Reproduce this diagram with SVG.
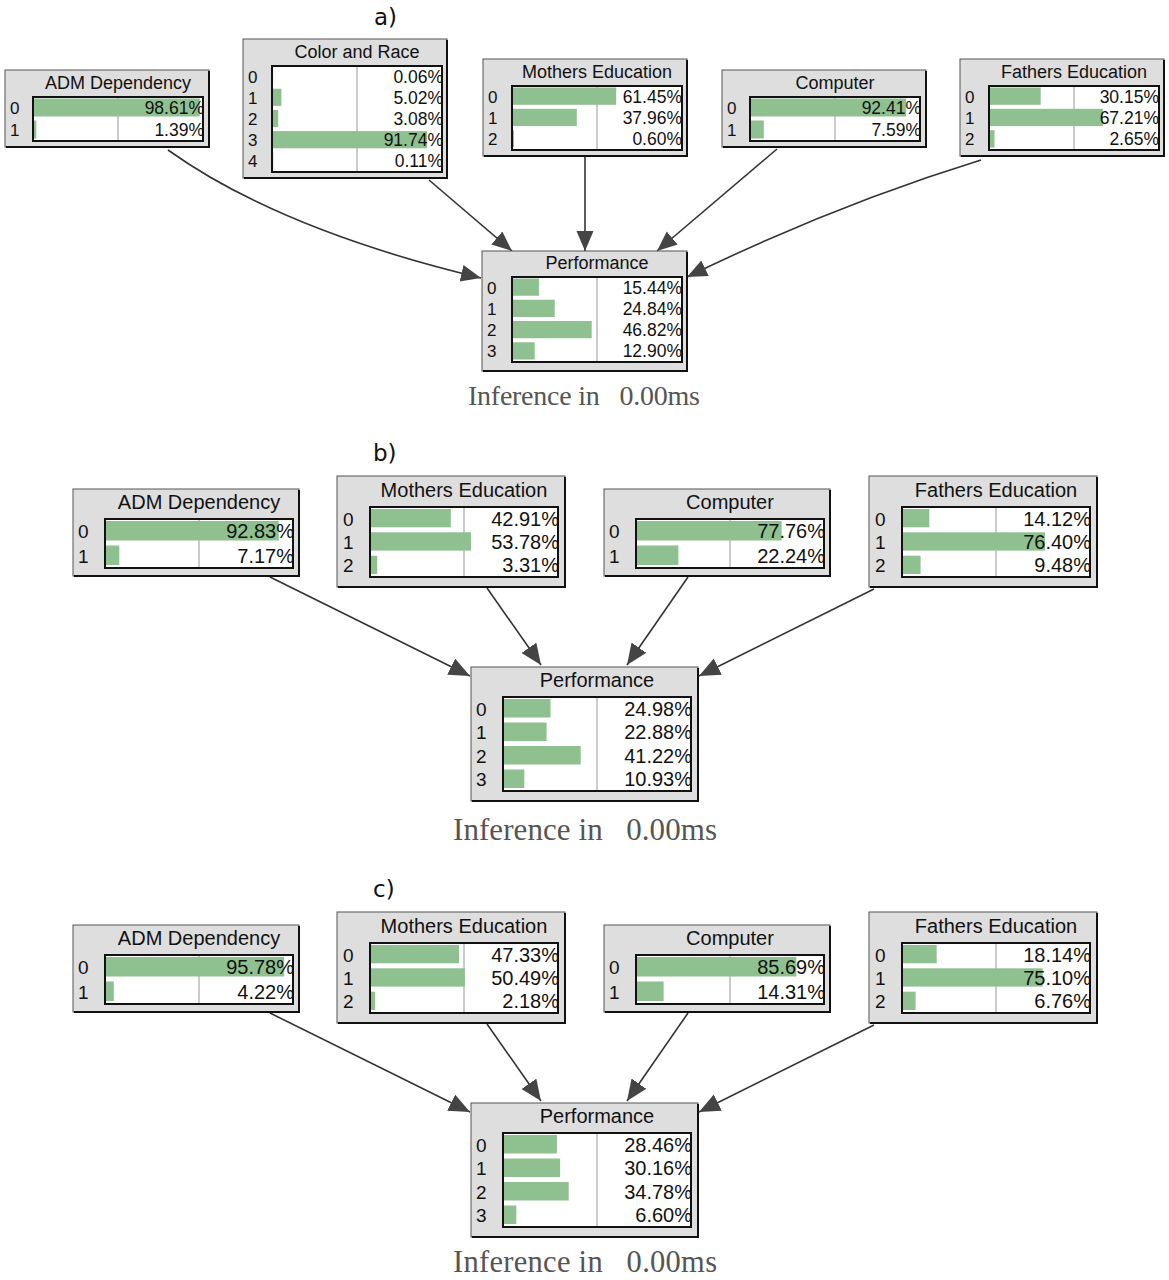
<svg xmlns="http://www.w3.org/2000/svg" width="1169" height="1280" viewBox="0 0 1169 1280">
<style>
.box{fill:#dedede;stroke:#555;stroke-width:1}
.sh{fill:none;stroke:#111;stroke-width:2}
.in{fill:#fff;stroke:#111;stroke-width:2}
.mid{stroke:#bbb;stroke-width:1.5}
.bar{fill:#8fc08f}
.t{font-family:"Liberation Sans",Arial,sans-serif;fill:#111}
.ta{font-size:18px;text-anchor:middle}
.pa{font-size:17.5px;text-anchor:end}
.la{font-size:17px}
.tb{font-size:20px;text-anchor:middle}
.pb{font-size:20px;text-anchor:end}
.lb{font-size:19px}
.edge{fill:none;stroke:#333;stroke-width:1.6}
.inf{font-family:"Liberation Serif","Times New Roman",serif;fill:#555}
.cap{font-family:"DejaVu Sans",sans-serif;font-size:23px;fill:#111}
</style>
<defs>
<marker id="ah" markerUnits="userSpaceOnUse" markerWidth="21" markerHeight="18" refX="20" refY="8.5" orient="auto"><path d="M0,0 L20,8.5 L0,17 Z" fill="#444"/></marker>
<marker id="bh" markerUnits="userSpaceOnUse" markerWidth="22" markerHeight="20" refX="21" refY="9" orient="auto"><path d="M0,0 L21,9 L0,18 Z" fill="#444"/></marker>
</defs>
<rect width="1169" height="1280" fill="#fff"/>

<text class="cap" x="374" y="25">a)</text>
<text class="cap" x="373" y="461">b)</text>
<text class="cap" x="373" y="897">c)</text>

<g id="edges">
<path class="edge" marker-end="url(#ah)" d="M168,150 Q280,230 481,278"/>
<path class="edge" marker-end="url(#ah)" d="M429,180 L512,251"/>
<path class="edge" marker-end="url(#ah)" d="M585,157 L585,251"/>
<path class="edge" marker-end="url(#ah)" d="M777,149 L657,251"/>
<path class="edge" marker-end="url(#ah)" d="M981,160 Q835,205 687,277"/>
<path class="edge" marker-end="url(#bh)" d="M270,577 L470,676"/>
<path class="edge" marker-end="url(#bh)" d="M487,588 L541,665"/>
<path class="edge" marker-end="url(#bh)" d="M688,577 L627,665"/>
<path class="edge" marker-end="url(#bh)" d="M874,589 L699,676"/>
<path class="edge" marker-end="url(#bh)" d="M270,1013 L470,1112"/>
<path class="edge" marker-end="url(#bh)" d="M487,1024 L541,1101"/>
<path class="edge" marker-end="url(#bh)" d="M688,1013 L627,1101"/>
<path class="edge" marker-end="url(#bh)" d="M874,1025 L699,1112"/>
</g>

<!-- Panel a -->
<g id="a-adm">
<rect class="box" x="5" y="70" width="204" height="77"/>
<path class="sh" d="M209,71 V147 H6"/>
<rect class="in" x="33" y="97" width="170" height="44"/>
<line class="mid" x1="118" y1="98" x2="118" y2="140"/>
<rect class="bar" x="34" y="98.5" width="165.7" height="18"/>
<rect class="bar" x="34" y="120.5" width="2.3" height="18"/>
<text class="t ta" x="118" y="89">ADM Dependency</text>
<text class="t la" x="10" y="114">0</text><text class="t la" x="10" y="136">1</text>
<text class="t pa" x="204" y="114">98.61%</text><text class="t pa" x="204" y="136">1.39%</text>
</g>

<g id="a-color">
<rect class="box" x="243" y="39" width="204" height="139"/>
<path class="sh" d="M447,40 V178 H244"/>
<rect class="in" x="272" y="66" width="170" height="106"/>
<line class="mid" x1="357" y1="67" x2="357" y2="171"/>
<rect class="bar" x="273" y="67.5" width="0.1" height="17.2"/>
<rect class="bar" x="273" y="88.7" width="8.4" height="17.2"/>
<rect class="bar" x="273" y="109.9" width="5.2" height="17.2"/>
<rect class="bar" x="273" y="131.1" width="154.1" height="17.2"/>
<rect class="bar" x="273" y="152.3" width="0.2" height="17.2"/>
<text class="t ta" x="357" y="58">Color and Race</text>
<text class="t la" x="248" y="82.6">0</text><text class="t la" x="248" y="103.8">1</text><text class="t la" x="248" y="125">2</text><text class="t la" x="248" y="146.2">3</text><text class="t la" x="248" y="167.4">4</text>
<text class="t pa" x="443" y="82.6">0.06%</text><text class="t pa" x="443" y="103.8">5.02%</text><text class="t pa" x="443" y="125">3.08%</text><text class="t pa" x="443" y="146.2">91.74%</text><text class="t pa" x="443" y="167.4">0.11%</text>
</g>

<g id="a-mothers">
<rect class="box" x="483" y="59" width="204" height="97"/>
<path class="sh" d="M687,60 V156 H484"/>
<rect class="in" x="512" y="86" width="170" height="64"/>
<line class="mid" x1="597" y1="87" x2="597" y2="149"/>
<rect class="bar" x="513" y="87.5" width="103.2" height="17.3"/>
<rect class="bar" x="513" y="108.8" width="63.8" height="17.3"/>
<rect class="bar" x="513" y="130.2" width="1.0" height="17.3"/>
<text class="t ta" x="597" y="78">Mothers Education</text>
<text class="t la" x="488" y="102.7">0</text><text class="t la" x="488" y="124">1</text><text class="t la" x="488" y="145.3">2</text>
<text class="t pa" x="682" y="102.7">61.45%</text><text class="t pa" x="682" y="124">37.96%</text><text class="t pa" x="682" y="145.3">0.60%</text>
</g>

<g id="a-computer">
<rect class="box" x="722" y="70" width="204" height="77"/>
<path class="sh" d="M926,71 V147 H723"/>
<rect class="in" x="750" y="97" width="170" height="44"/>
<line class="mid" x1="835" y1="98" x2="835" y2="140"/>
<rect class="bar" x="751" y="98.5" width="155.2" height="18"/>
<rect class="bar" x="751" y="120.5" width="12.8" height="18"/>
<text class="t ta" x="835" y="89">Computer</text>
<text class="t la" x="727" y="114">0</text><text class="t la" x="727" y="136">1</text>
<text class="t pa" x="921" y="114">92.41%</text><text class="t pa" x="921" y="136">7.59%</text>
</g>

<g id="a-fathers">
<rect class="box" x="960" y="59" width="204" height="97"/>
<path class="sh" d="M1164,60 V156 H961"/>
<rect class="in" x="989" y="86" width="170" height="64"/>
<line class="mid" x1="1074" y1="87" x2="1074" y2="149"/>
<rect class="bar" x="990" y="87.5" width="50.7" height="17.3"/>
<rect class="bar" x="990" y="108.8" width="112.9" height="17.3"/>
<rect class="bar" x="990" y="130.2" width="4.5" height="17.3"/>
<text class="t ta" x="1074" y="78">Fathers Education</text>
<text class="t la" x="965" y="102.7">0</text><text class="t la" x="965" y="124">1</text><text class="t la" x="965" y="145.3">2</text>
<text class="t pa" x="1159" y="102.7">30.15%</text><text class="t pa" x="1159" y="124">67.21%</text><text class="t pa" x="1159" y="145.3">2.65%</text>
</g>

<g id="a-performance">
<rect class="box" x="482" y="251" width="205" height="120"/>
<path class="sh" d="M687,252 V371 H483"/>
<rect class="in" x="512" y="277" width="170" height="85"/>
<line class="mid" x1="597" y1="278" x2="597" y2="361"/>
<rect class="bar" x="513" y="278.5" width="25.9" height="17.25"/>
<rect class="bar" x="513" y="299.75" width="41.7" height="17.25"/>
<rect class="bar" x="513" y="321" width="78.7" height="17.25"/>
<rect class="bar" x="513" y="342.25" width="21.7" height="17.25"/>
<text class="t ta" x="597" y="269">Performance</text>
<text class="t la" x="487" y="293.6">0</text><text class="t la" x="487" y="314.9">1</text><text class="t la" x="487" y="336.1">2</text><text class="t la" x="487" y="357.4">3</text>
<text class="t pa" x="682" y="293.6">15.44%</text><text class="t pa" x="682" y="314.9">24.84%</text><text class="t pa" x="682" y="336.1">46.82%</text><text class="t pa" x="682" y="357.4">12.90%</text>
</g>
<text class="inf" x="468" y="405" font-size="28" textLength="232" xml:space="preserve">Inference in   0.00ms</text>

<!-- Panel b -->
<g id="b-adm">
<rect class="box" x="73" y="489" width="226" height="87"/>
<path class="sh" d="M299,490 V576 H74"/>
<rect class="in" x="105" y="519" width="188" height="49"/>
<line class="mid" x1="199" y1="520" x2="199" y2="567"/>
<rect class="bar" x="106" y="521" width="172.7" height="19.5"/>
<rect class="bar" x="106" y="545.5" width="13.3" height="19.5"/>
<text class="t tb" x="199" y="509">ADM Dependency</text>
<text class="t lb" x="78" y="538.2">0</text><text class="t lb" x="78" y="562.7">1</text>
<text class="t pb" x="294" y="538.2">92.83%</text><text class="t pb" x="294" y="562.7">7.17%</text>
</g>

<g id="b-mothers">
<rect class="box" x="337" y="476" width="228" height="111"/>
<path class="sh" d="M565,477 V587 H338"/>
<rect class="in" x="370" y="507" width="188" height="70"/>
<line class="mid" x1="464" y1="508" x2="464" y2="576"/>
<rect class="bar" x="371" y="509" width="79.8" height="18.3"/>
<rect class="bar" x="371" y="532.3" width="100.0" height="18.3"/>
<rect class="bar" x="371" y="555.7" width="6.2" height="18.3"/>
<text class="t tb" x="464" y="497">Mothers Education</text>
<text class="t lb" x="343" y="525.7">0</text><text class="t lb" x="343" y="549">1</text><text class="t lb" x="343" y="572.3">2</text>
<text class="t pb" x="559" y="525.7">42.91%</text><text class="t pb" x="559" y="549">53.78%</text><text class="t pb" x="559" y="572.3">3.31%</text>
</g>

<g id="b-computer">
<rect class="box" x="604" y="489" width="226" height="87"/>
<path class="sh" d="M830,490 V576 H605"/>
<rect class="in" x="636" y="519" width="188" height="49"/>
<line class="mid" x1="730" y1="520" x2="730" y2="567"/>
<rect class="bar" x="637" y="521" width="144.6" height="19.5"/>
<rect class="bar" x="637" y="545.5" width="41.4" height="19.5"/>
<text class="t tb" x="730" y="509">Computer</text>
<text class="t lb" x="609" y="538.2">0</text><text class="t lb" x="609" y="562.7">1</text>
<text class="t pb" x="825" y="538.2">77.76%</text><text class="t pb" x="825" y="562.7">22.24%</text>
</g>

<g id="b-fathers">
<rect class="box" x="869" y="476" width="228" height="111"/>
<path class="sh" d="M1097,477 V587 H870"/>
<rect class="in" x="902" y="507" width="188" height="70"/>
<line class="mid" x1="996" y1="508" x2="996" y2="576"/>
<rect class="bar" x="903" y="509" width="26.3" height="18.3"/>
<rect class="bar" x="903" y="532.3" width="142.1" height="18.3"/>
<rect class="bar" x="903" y="555.7" width="17.6" height="18.3"/>
<text class="t tb" x="996" y="497">Fathers Education</text>
<text class="t lb" x="875" y="525.7">0</text><text class="t lb" x="875" y="549">1</text><text class="t lb" x="875" y="572.3">2</text>
<text class="t pb" x="1091" y="525.7">14.12%</text><text class="t pb" x="1091" y="549">76.40%</text><text class="t pb" x="1091" y="572.3">9.48%</text>
</g>

<g id="b-performance">
<rect class="box" x="471" y="667" width="227" height="134"/>
<path class="sh" d="M698,668 V801 H472"/>
<rect class="in" x="503" y="697" width="188" height="94"/>
<line class="mid" x1="597" y1="698" x2="597" y2="790"/>
<rect class="bar" x="504" y="699" width="46.5" height="18.5"/>
<rect class="bar" x="504" y="722.5" width="42.6" height="18.5"/>
<rect class="bar" x="504" y="746" width="76.7" height="18.5"/>
<rect class="bar" x="504" y="769.5" width="20.3" height="18.5"/>
<text class="t tb" x="597" y="687">Performance</text>
<text class="t lb" x="476" y="715.7">0</text><text class="t lb" x="476" y="739.2">1</text><text class="t lb" x="476" y="762.7">2</text><text class="t lb" x="476" y="786.2">3</text>
<text class="t pb" x="692" y="715.7">24.98%</text><text class="t pb" x="692" y="739.2">22.88%</text><text class="t pb" x="692" y="762.7">41.22%</text><text class="t pb" x="692" y="786.2">10.93%</text>
</g>
<text class="inf" x="453" y="840" font-size="31" textLength="264" xml:space="preserve">Inference in   0.00ms</text>

<!-- Panel c -->
<g id="c-adm">
<rect class="box" x="73" y="925" width="226" height="87"/>
<path class="sh" d="M299,926 V1012 H74"/>
<rect class="in" x="105" y="955" width="188" height="49"/>
<line class="mid" x1="199" y1="956" x2="199" y2="1003"/>
<rect class="bar" x="106" y="957" width="178.2" height="19.5"/>
<rect class="bar" x="106" y="981.5" width="7.8" height="19.5"/>
<text class="t tb" x="199" y="945">ADM Dependency</text>
<text class="t lb" x="78" y="974.2">0</text><text class="t lb" x="78" y="998.7">1</text>
<text class="t pb" x="294" y="974.2">95.78%</text><text class="t pb" x="294" y="998.7">4.22%</text>
</g>

<g id="c-mothers">
<rect class="box" x="337" y="912" width="228" height="111"/>
<path class="sh" d="M565,913 V1023 H338"/>
<rect class="in" x="370" y="943" width="188" height="70"/>
<line class="mid" x1="464" y1="944" x2="464" y2="1012"/>
<rect class="bar" x="371" y="945" width="88.0" height="18.3"/>
<rect class="bar" x="371" y="968.3" width="93.9" height="18.3"/>
<rect class="bar" x="371" y="991.7" width="4.1" height="18.3"/>
<text class="t tb" x="464" y="933">Mothers Education</text>
<text class="t lb" x="343" y="961.7">0</text><text class="t lb" x="343" y="985">1</text><text class="t lb" x="343" y="1008.3">2</text>
<text class="t pb" x="559" y="961.7">47.33%</text><text class="t pb" x="559" y="985">50.49%</text><text class="t pb" x="559" y="1008.3">2.18%</text>
</g>

<g id="c-computer">
<rect class="box" x="604" y="925" width="226" height="87"/>
<path class="sh" d="M830,926 V1012 H605"/>
<rect class="in" x="636" y="955" width="188" height="49"/>
<line class="mid" x1="730" y1="956" x2="730" y2="1003"/>
<rect class="bar" x="637" y="957" width="159.4" height="19.5"/>
<rect class="bar" x="637" y="981.5" width="26.6" height="19.5"/>
<text class="t tb" x="730" y="945">Computer</text>
<text class="t lb" x="609" y="974.2">0</text><text class="t lb" x="609" y="998.7">1</text>
<text class="t pb" x="825" y="974.2">85.69%</text><text class="t pb" x="825" y="998.7">14.31%</text>
</g>

<g id="c-fathers">
<rect class="box" x="869" y="912" width="228" height="111"/>
<path class="sh" d="M1097,913 V1023 H870"/>
<rect class="in" x="902" y="943" width="188" height="70"/>
<line class="mid" x1="996" y1="944" x2="996" y2="1012"/>
<rect class="bar" x="903" y="945" width="33.7" height="18.3"/>
<rect class="bar" x="903" y="968.3" width="139.7" height="18.3"/>
<rect class="bar" x="903" y="991.7" width="12.6" height="18.3"/>
<text class="t tb" x="996" y="933">Fathers Education</text>
<text class="t lb" x="875" y="961.7">0</text><text class="t lb" x="875" y="985">1</text><text class="t lb" x="875" y="1008.3">2</text>
<text class="t pb" x="1091" y="961.7">18.14%</text><text class="t pb" x="1091" y="985">75.10%</text><text class="t pb" x="1091" y="1008.3">6.76%</text>
</g>

<g id="c-performance">
<rect class="box" x="471" y="1103" width="227" height="134"/>
<path class="sh" d="M698,1104 V1237 H472"/>
<rect class="in" x="503" y="1133" width="188" height="94"/>
<line class="mid" x1="597" y1="1134" x2="597" y2="1226"/>
<rect class="bar" x="504" y="1135" width="52.9" height="18.5"/>
<rect class="bar" x="504" y="1158.5" width="56.1" height="18.5"/>
<rect class="bar" x="504" y="1182" width="64.7" height="18.5"/>
<rect class="bar" x="504" y="1205.5" width="12.3" height="18.5"/>
<text class="t tb" x="597" y="1123">Performance</text>
<text class="t lb" x="476" y="1151.7">0</text><text class="t lb" x="476" y="1175.2">1</text><text class="t lb" x="476" y="1198.7">2</text><text class="t lb" x="476" y="1222.2">3</text>
<text class="t pb" x="692" y="1151.7">28.46%</text><text class="t pb" x="692" y="1175.2">30.16%</text><text class="t pb" x="692" y="1198.7">34.78%</text><text class="t pb" x="692" y="1222.2">6.60%</text>
</g>
<text class="inf" x="453" y="1272" font-size="30.5" textLength="264" xml:space="preserve">Inference in   0.00ms</text>
</svg>
